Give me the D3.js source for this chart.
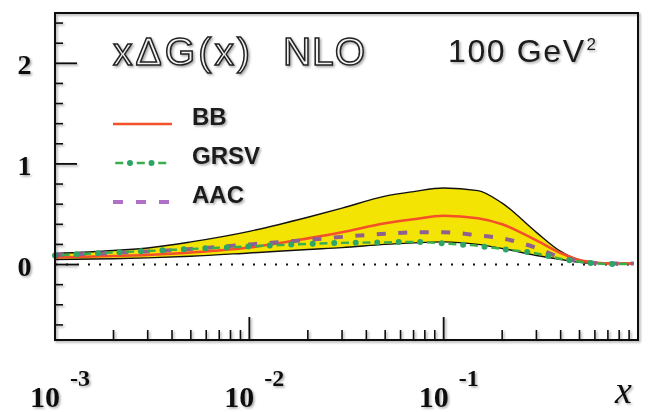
<!DOCTYPE html>
<html>
<head>
<meta charset="utf-8">
<script src="https://cdn.jsdelivr.net/npm/d3@7"></script>
<style>
  html, body { margin: 0; padding: 0; background: #fff; }
  svg { display: block; }
</style>
</head>
<body>
<script>
// Momentum fraction grid (log-spaced sampling points)
const xValues = [0.001, 0.002, 0.003, 0.005, 0.01, 0.02, 0.03, 0.05, 0.07, 0.1,
                 0.15, 0.2, 0.3, 0.4, 0.5, 0.6, 0.7, 0.8, 0.95];

// BB uncertainty band: lower and upper edges of xΔG
const bandLower = [0.05, 0.058, 0.066, 0.082, 0.115, 0.15, 0.168, 0.2, 0.215, 0.225,
                   0.2, 0.16, 0.09, 0.05, 0.022, 0.012, 0.01, 0.01, 0.01];
const bandUpper = [0.11, 0.14, 0.165, 0.225, 0.33, 0.47, 0.56, 0.68, 0.725, 0.76,
                   0.735, 0.61, 0.32, 0.13, 0.045, 0.02, 0.015, 0.012, 0.01];

// Central curves of the three parametrisations
const bbValues   = [0.07, 0.085, 0.095, 0.12, 0.17, 0.26, 0.32, 0.41, 0.45, 0.485,
                    0.46, 0.40, 0.24, 0.115, 0.045, 0.02, 0.012, 0.01, 0.01];
const aacValues  = [0.095, 0.115, 0.13, 0.155, 0.20, 0.245, 0.275, 0.305, 0.32, 0.32,
                    0.29, 0.26, 0.165, 0.07, 0.035, 0.015, 0.01, 0.01, 0.01];
const grsvValues = [0.09, 0.12, 0.135, 0.155, 0.18, 0.205, 0.215, 0.22, 0.225, 0.21,
                    0.185, 0.155, 0.11, 0.058, 0.028, 0.012, 0.006, 0.005, 0.005];

// Axis tick labels
const xMajorTicks = [0.001, 0.01, 0.1];
const xMajorExponents = ["-3", "-2", "-1"];
const yMajorTicks = [0, 1, 2];
const yMajorLabels = ["0", "1", "2"];

const legendNames = ["BB", "GRSV", "AAC"];

const W = 654, H = 412;
const svg = d3.select("body").append("svg").attr("width", W).attr("height", H);

const defs = svg.append("defs");
const shade = defs.append("filter").attr("id", "shade")
  .attr("x", "-20%").attr("y", "-20%").attr("width", "140%").attr("height", "140%");
shade.append("feDropShadow").attr("dx", 1.5).attr("dy", 1.5)
  .attr("stdDeviation", 1.1).attr("flood-color", "#000").attr("flood-opacity", 0.35);

const x = d3.scaleLog().domain([1e-3, 1]).range([55, 638]);
const y = d3.scaleLinear().domain([-0.75, 2.5]).range([340, 13]);

const pts = vals => xValues.map((xv, i) => [xv, vals[i]]);
const line = d3.line().x(d => x(d[0])).y(d => y(d[1])).curve(d3.curveMonotoneX);

// Uncertainty band
const bandData = xValues.map((xv, i) => ({ x: xv, lo: bandLower[i], hi: bandUpper[i] }));
const area = d3.area().x(d => x(d.x)).y0(d => y(d.lo)).y1(d => y(d.hi)).curve(d3.curveMonotoneX);
svg.append("path").datum(bandData).attr("d", area).attr("fill", "#f4e404");
svg.append("path").datum(pts(bandUpper)).attr("d", line)
  .attr("fill", "none").attr("stroke", "#111").attr("stroke-width", 1.4);
svg.append("path").datum(pts(bandLower)).attr("d", line)
  .attr("fill", "none").attr("stroke", "#111").attr("stroke-width", 1.4);

// Zero reference (dotted)
svg.append("line")
  .attr("x1", x(1e-3)).attr("x2", x(1)).attr("y1", y(0)).attr("y2", y(0))
  .attr("stroke", "#111").attr("stroke-width", 2).attr("stroke-dasharray", "2,9");

// BB central curve
svg.append("path").datum(pts(bbValues)).attr("d", line)
  .attr("fill", "none").attr("stroke", "#f4502a").attr("stroke-width", 2.6);

// AAC (dashed)
svg.append("path").datum(pts(aacValues)).attr("d", line)
  .attr("fill", "none").attr("stroke", "#8d6090").attr("stroke-width", 4)
  .attr("stroke-dasharray", "9,12.5");

// GRSV (dash + dot)
const grsvColor = "#3aae4c";
svg.append("path").datum(pts(grsvValues)).attr("d", line)
  .attr("fill", "none").attr("stroke", grsvColor).attr("stroke-width", 2.4)
  .attr("stroke-dasharray", "8,13.5").attr("stroke-dashoffset", -6.75);
svg.append("path").datum(pts(grsvValues)).attr("d", line)
  .attr("fill", "none").attr("stroke", "#2ea566").attr("stroke-width", 6)
  .attr("stroke-linecap", "round").attr("stroke-dasharray", "0,21.5");

// Frame
const frame = svg.append("g").attr("filter", "url(#shade)");
frame.append("rect")
  .attr("x", x(1e-3)).attr("y", y(2.5))
  .attr("width", x(1) - x(1e-3)).attr("height", y(-0.75) - y(2.5))
  .attr("fill", "none").attr("stroke", "#111").attr("stroke-width", 2);

// Y ticks (inside, on the left edge)
const yMinor = d3.range(-3, 13).map(i => +(i * 0.2).toFixed(1)).filter(v => !yMajorTicks.includes(v));
frame.selectAll(".ymin").data(yMinor).join("line")
  .attr("x1", x(1e-3)).attr("x2", x(1e-3) + 8)
  .attr("y1", d => y(d)).attr("y2", d => y(d))
  .attr("stroke", "#111").attr("stroke-width", 1.6);
frame.selectAll(".ymaj").data(yMajorTicks).join("line")
  .attr("x1", x(1e-3)).attr("x2", x(1e-3) + 22)
  .attr("y1", d => y(d)).attr("y2", d => y(d))
  .attr("stroke", "#111").attr("stroke-width", 1.8);

// X ticks (inside, on the bottom edge)
const xMinor = [];
[1e-3, 1e-2, 1e-1].forEach(dec => d3.range(2, 10).forEach(m => xMinor.push(m * dec)));
frame.selectAll(".xmin").data(xMinor).join("line")
  .attr("x1", d => x(d)).attr("x2", d => x(d))
  .attr("y1", y(-0.75)).attr("y2", y(-0.75) - 10)
  .attr("stroke", "#111").attr("stroke-width", 1.6);
frame.selectAll(".xmaj").data(xMajorTicks).join("line")
  .attr("x1", d => x(d)).attr("x2", d => x(d))
  .attr("y1", y(-0.75)).attr("y2", y(-0.75) - 23)
  .attr("stroke", "#111").attr("stroke-width", 1.8);

// Tick labels
const labels = svg.append("g").attr("filter", "url(#shade)")
  .attr("font-family", "'Liberation Serif', 'Times New Roman', serif")
  .attr("font-weight", "bold").attr("fill", "#111");
labels.selectAll(".ylab").data(yMajorTicks).join("text")
  .attr("x", 24.5).attr("y", d => y(d) + 11)
  .attr("text-anchor", "middle").attr("font-size", 28)
  .text((d, i) => yMajorLabels[i]);
labels.selectAll(".xlab").data(xMajorTicks).join("text")
  .attr("x", d => x(d) - 25).attr("y", 407)
  .attr("font-size", 30).text("10");
labels.selectAll(".xexp").data(xMajorTicks).join("text")
  .attr("x", d => x(d) + 15).attr("y", 386)
  .attr("font-size", 24).text((d, i) => xMajorExponents[i]);

// Axis title
svg.append("text").attr("filter", "url(#shade)")
  .attr("x", 615).attr("y", 403)
  .attr("font-family", "'Liberation Serif', 'Times New Roman', serif")
  .attr("font-style", "italic").attr("font-size", 38).attr("fill", "#111")
  .text("x");

// Headline (outlined lettering)
const head = svg.append("g").attr("filter", "url(#shade)")
  .attr("font-family", "'Liberation Sans', Arial, sans-serif")
  .attr("font-size", 39).attr("fill", "#f2f2f2").attr("stroke", "#222").attr("stroke-width", 1.5);
head.append("text").attr("x", 113).attr("y", 65)
  .attr("textLength", 137).attr("lengthAdjust", "spacing").text("xΔG(x)");
head.append("text").attr("x", 283).attr("y", 65)
  .attr("textLength", 82).attr("lengthAdjust", "spacing").text("NLO");

// Scale annotation
const scaleText = svg.append("text").attr("filter", "url(#shade)")
  .attr("x", 448).attr("y", 62)
  .attr("font-family", "'Liberation Sans', Arial, sans-serif")
  .attr("font-size", 32).attr("fill", "#1a1a1a");
scaleText.append("tspan").attr("textLength", 136).attr("lengthAdjust", "spacing").text("100 GeV");
scaleText.append("tspan").attr("dx", 1).attr("dy", -12).attr("font-size", 17).text("2");

// Legend
const legend = svg.append("g");
const legendY = [124, 163, 202];
const lx0 = 113, lx1 = 172;
const legLine = d3.line();
// BB
legend.append("path").attr("d", legLine([[lx0, legendY[0]], [lx1, legendY[0]]]))
  .attr("stroke", "#f4502a").attr("stroke-width", 2.6);
// GRSV
legend.append("path").attr("d", legLine([[lx0, legendY[1]], [lx1, legendY[1]]]))
  .attr("stroke", grsvColor).attr("stroke-width", 2.4)
  .attr("stroke-dasharray", "8,13.5").attr("stroke-dashoffset", 19.25);
legend.append("path").attr("d", legLine([[lx0, legendY[1]], [lx1, legendY[1]]]))
  .attr("stroke", "#2ea566").attr("stroke-width", 6).attr("stroke-linecap", "round")
  .attr("stroke-dasharray", "0,21.5").attr("stroke-dashoffset", 4.5);
// AAC
legend.append("path").attr("d", legLine([[lx0, legendY[2]], [lx1, legendY[2]]]))
  .attr("stroke", "#b070c8").attr("stroke-width", 4)
  .attr("stroke-dasharray", "10,13");

legend.append("g").attr("filter", "url(#shade)")
  .selectAll("text").data(legendNames).join("text")
  .attr("x", 192).attr("y", (d, i) => legendY[i] + 1)
  .attr("font-family", "'Liberation Sans', Arial, sans-serif")
  .attr("font-weight", "bold").attr("font-size", 24).attr("fill", "#1a1a1a")
  .text(d => d);
</script>
</body>
</html>
